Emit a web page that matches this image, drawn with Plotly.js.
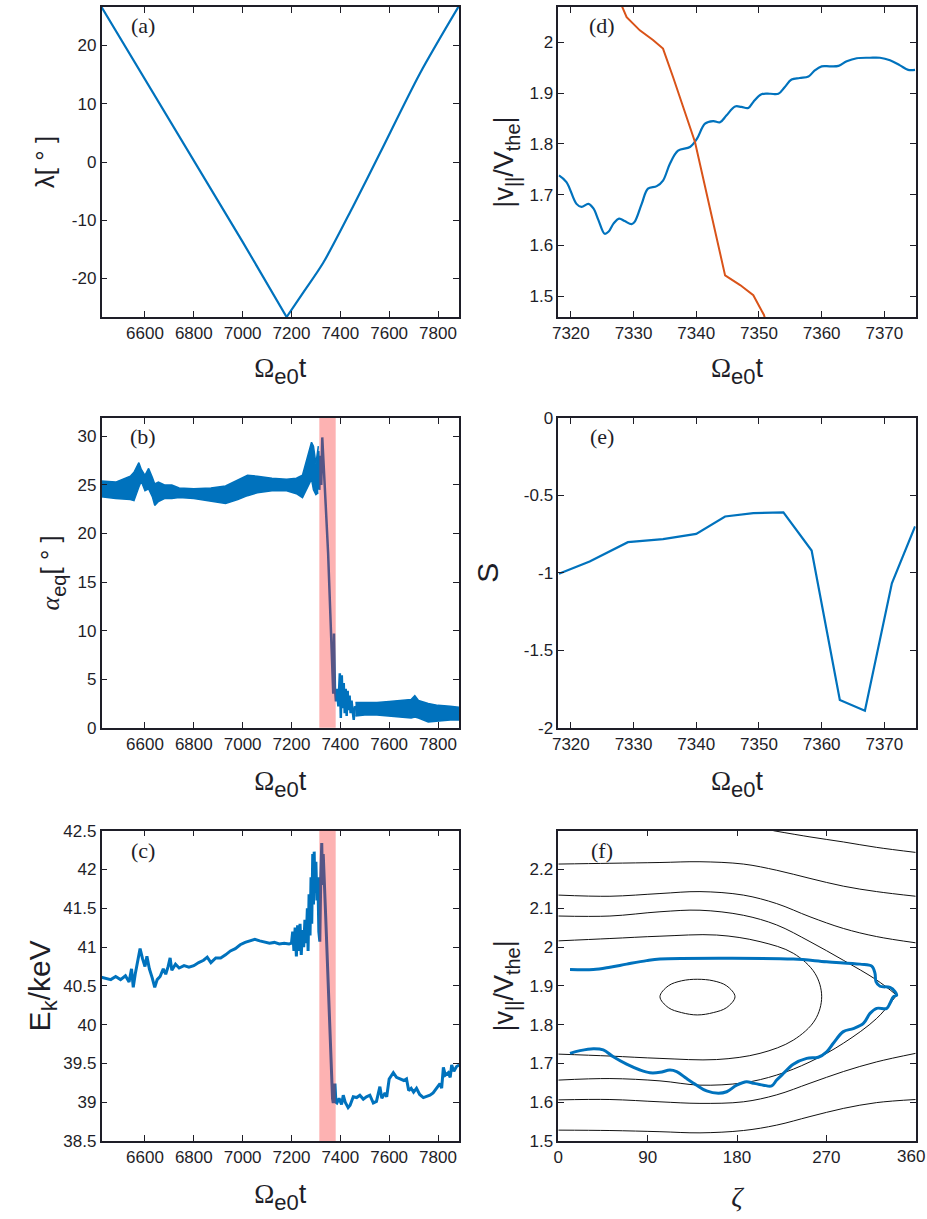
<!DOCTYPE html>
<html>
<head>
<meta charset="utf-8">
<script src="https://cdn.plot.ly/plotly-3.0.1.min.js"></script>
<style>html,body{margin:0;padding:0;background:#fff}</style>
</head>
<body>
<div id="chart" style="width:927px;height:1219px"></div>
<script>
// ---------- Data ----------
// (a) latitude vs time (index 4 is the turning point)
var a_t   = [6422, 6600, 6800, 7000, 7180, 7250, 7330, 7450, 7562, 7726, 7886];
var a_lat = [26.6, 14.2, 0.2, -13.7, -26.6, -22.3, -17.3, -7.8, 1.5, 15.2, 26.8];

// (b) equatorial pitch angle: noisy band (envelopes) + transition line + late band
var b1_t     = [6421, 6480, 6540, 6555, 6575, 6585, 6600, 6615, 6630, 6640, 6655, 6680, 6710, 6740, 6800, 6870, 6930, 6980, 7020, 7060, 7120, 7180, 7220, 7245, 7262, 7272, 7282, 7290, 7300, 7310];
var b1_upper = [25.4, 25.3, 25.9, 26.3, 27.3, 26.6, 26.0, 26.7, 25.8, 25.1, 25.3, 25.0, 25.0, 24.7, 24.6, 24.7, 24.9, 25.5, 26.0, 25.9, 25.7, 25.6, 25.7, 26.0, 27.5, 28.3, 29.4, 29.0, 27.2, 29.0];
var b1_lower = [23.8, 23.6, 23.5, 23.4, 24.8, 25.4, 24.4, 24.6, 23.8, 22.9, 23.3, 23.6, 23.6, 23.7, 23.6, 23.3, 23.1, 23.5, 23.9, 24.2, 24.4, 24.4, 24.1, 23.7, 24.5, 25.0, 25.6, 24.5, 24.0, 24.2];
var b2_t     = [7310, 7314, 7318, 7322, 7326, 7330, 7340, 7350, 7358, 7364, 7368, 7371, 7374, 7376, 7378, 7382, 7386, 7392, 7398, 7402, 7406, 7410, 7414, 7418, 7422, 7426, 7430, 7434, 7438, 7442, 7446, 7450, 7455, 7460, 7466];
var b2_alpha = [28.5, 24.5, 28.0, 25.0, 29.9, 27.5, 23.0, 18.0, 13.0, 9.7, 6.0, 3.5, 9.7, 6.0, 4.0, 2.7, 4.0, 2.2, 5.6, 1.0, 5.4, 2.0, 4.6, 1.5, 4.0, 1.2, 3.8, 1.8, 3.3, 1.5, 2.8, 1.8, 0.8, 2.2, 1.9];
var b3_t     = [7462, 7500, 7550, 7600, 7650, 7690, 7705, 7720, 7760, 7800, 7850, 7886];
var b3_upper = [2.6, 2.6, 2.6, 2.7, 2.8, 2.9, 3.3, 2.8, 2.5, 2.3, 2.2, 2.1];
var b3_lower = [1.2, 1.3, 1.3, 1.2, 1.1, 1.0, 1.1, 1.0, 0.6, 0.7, 0.8, 0.8];
var band_t = [7314, 7381];   // shaded interval (panels b, c)

// (c) kinetic energy
var c_t = [6421, 6440, 6460, 6480, 6500, 6520, 6535, 6545, 6552, 6560, 6570, 6580, 6590, 6600, 6608, 6618, 6630, 6640, 6650, 6662, 6675, 6685, 6695, 6703, 6710, 6725, 6740, 6760, 6780, 6800, 6820, 6840, 6855, 6870, 6890, 6910, 6930, 6950, 6970, 6990, 7010, 7030, 7050, 7070, 7090, 7110, 7130, 7150, 7170, 7190, 7200,
  7205, 7210, 7215, 7220, 7225, 7230, 7235, 7240, 7245, 7250, 7255, 7260, 7265, 7268, 7272, 7276, 7280, 7283, 7287, 7290, 7293, 7296, 7300, 7304, 7308, 7312, 7316, 7320, 7324, 7327, 7330, 7340, 7350, 7358, 7364, 7368, 7371, 7375, 7378, 7382, 7386,
  7395, 7405, 7412, 7420, 7432, 7440, 7453, 7467, 7480, 7494, 7507, 7521, 7535, 7548, 7562, 7570, 7583, 7590, 7600, 7617, 7630, 7644, 7660, 7671, 7680, 7690, 7700, 7712, 7725, 7740, 7755, 7767, 7780, 7794, 7808, 7815, 7822, 7830, 7842, 7850, 7856, 7865, 7876, 7887];
var c_E = [40.61, 40.60, 40.58, 40.62, 40.58, 40.63, 40.55, 40.72, 40.48, 40.65, 40.80, 40.98, 40.85, 40.75, 40.88, 40.72, 40.60, 40.48, 40.58, 40.62, 40.72, 40.65, 40.75, 40.86, 40.70, 40.78, 40.73, 40.76, 40.74, 40.76, 40.80, 40.83, 40.87, 40.80, 40.86, 40.86, 40.90, 40.95, 40.98, 41.03, 41.06, 41.08, 41.10, 41.08, 41.06, 41.05, 41.06, 41.04, 41.05, 41.04, 41.05,
  41.20, 40.95, 41.25, 40.88, 41.28, 40.95, 41.30, 40.90, 41.22, 41.00, 41.35, 41.05, 41.50, 40.95, 41.68, 41.15, 41.90, 41.30, 42.20, 41.55, 42.23, 41.70, 42.10, 41.60, 41.90, 41.20, 41.07, 41.90, 42.34, 41.80, 42.20, 41.40, 40.55, 39.75, 39.29, 39.05, 38.99, 39.20, 39.24, 39.00, 38.99,
  39.05, 38.97, 39.09, 39.00, 38.93, 38.96, 39.07, 39.06, 39.09, 39.04, 39.07, 39.09, 38.99, 39.01, 39.20, 39.05, 39.12, 39.07, 39.30, 39.38, 39.32, 39.30, 39.28, 39.30, 39.15, 39.18, 39.13, 39.18, 39.10, 39.06, 39.08, 39.09, 39.12, 39.18, 39.24, 39.18, 39.45, 39.35, 39.38, 39.32, 39.48, 39.40, 39.46, 39.48];

// (d) parallel velocity (blue) and resonance velocity (red)
var d_t = [7318.1, 7319.3, 7320.9, 7321.7, 7322.8, 7323.6, 7324.4, 7325.4, 7326.0, 7326.8, 7327.7, 7328.6, 7329.7, 7330.2, 7331.3, 7332.3, 7333.7, 7334.7, 7335.8, 7337.1, 7339.0, 7340.1, 7341.4, 7342.7, 7343.8, 7344.8, 7346.2, 7347.2, 7348.3, 7349.1, 7350.4, 7351.8, 7353.1, 7354.1, 7355.2, 7356.5, 7357.9, 7358.9, 7360.0, 7361.3, 7362.7, 7364.0, 7365.6, 7367.7, 7369.3, 7370.9, 7372.5, 7373.8, 7374.9];
var d_v = [1.738, 1.725, 1.682, 1.676, 1.682, 1.673, 1.650, 1.623, 1.627, 1.643, 1.653, 1.648, 1.642, 1.647, 1.682, 1.712, 1.717, 1.728, 1.761, 1.787, 1.794, 1.810, 1.840, 1.845, 1.843, 1.856, 1.874, 1.873, 1.871, 1.883, 1.898, 1.899, 1.899, 1.912, 1.927, 1.930, 1.933, 1.945, 1.953, 1.953, 1.954, 1.963, 1.969, 1.970, 1.970, 1.965, 1.955, 1.946, 1.946];
var dres_t = [7327.5, 7328.1, 7328.9, 7331.0, 7333.1, 7334.7, 7336.3, 7339.8, 7344.6, 7347.0, 7349.1, 7350.8, 7351.5];
var dres_v = [2.100, 2.073, 2.050, 2.024, 2.005, 1.988, 1.932, 1.804, 1.541, 1.522, 1.502, 1.463, 1.433];

// (e) inhomogeneity factor S
var e_t = [7318.1, 7323.0, 7329.1, 7334.7, 7340.0, 7344.6, 7349.1, 7353.9, 7358.4, 7362.9, 7366.9, 7371.2, 7374.9];
var e_S = [-1.006, -0.927, -0.802, -0.782, -0.748, -0.636, -0.614, -0.610, -0.856, -1.821, -1.890, -1.067, -0.700];

// (f) phase-space contours (segments separated by null) and trajectory
var f_cont_zeta = [216.6, 253.5, 287.1, 320.7, 360, null,
  0, 52, 102.4, 142.7, 186.4, 220, 253.5, 287.1, 320.7, 360, null,
  0, 52, 102.4, 142.7, 186.4, 220, 253.5, 287.1, 320.7, 360, null,
  0, 52, 102.4, 142.7, 186.4, 220, 253.5, 287.1, 320.7, 340.8, null,
  0, 52, 102.4, 142.7, 186.4, 220, 253.5, 287.1, 320.7, 340.8, null,
  0, 52, 102.4, 142.7, 186.4, 220, 253.5, 287.1, 320.7, 360, null,
  0, 52, 102.4, 142.7, 186.4, 220, 253.5, 287.1, 320.7, 360, null,
  0, 52, 102.4, 159.5, 203.2, 236.7, 258.6, 265.3, 258.6, 236.7, 203.2, 159.5, 102.4, 52, 0, null,
  102.4, 110.8, 124.2, 140, 156.1, 169.6, 178, 169.6, 156.1, 140, 124.2, 110.8, 102.4];
var f_cont_v = [2.300, 2.284, 2.271, 2.257, 2.244, null,
  2.214, 2.216, 2.218, 2.220, 2.214, 2.198, 2.177, 2.157, 2.143, 2.131, null,
  2.134, 2.131, 2.138, 2.143, 2.134, 2.112, 2.078, 2.048, 2.027, 2.011, null,
  2.080, 2.080, 2.091, 2.095, 2.082, 2.057, 2.014, 1.966, 1.915, 1.876, null,
  1.657, 1.661, 1.655, 1.644, 1.650, 1.670, 1.704, 1.752, 1.816, 1.876, null,
  1.606, 1.607, 1.601, 1.597, 1.601, 1.619, 1.649, 1.679, 1.704, 1.726, null,
  1.528, 1.527, 1.524, 1.521, 1.527, 1.541, 1.563, 1.584, 1.599, 1.607, null,
  1.724, 1.719, 1.713, 1.710, 1.726, 1.760, 1.812, 1.872, 1.932, 1.984, 2.014, 2.031, 2.028, 2.022, 2.016, null,
  1.872, 1.900, 1.913, 1.917, 1.913, 1.900, 1.872, 1.844, 1.831, 1.825, 1.831, 1.844, 1.872];
var f_traj_zeta = [11.8, 21.8, 35.3, 45.3, 55.4, 68.8, 82.3, 92.3, 102.4, 112.5, 119.2, 129.3, 139.4, 149.4, 161.2, 169.6, 179.7, 189.7, 196.4, 206.5, 214.9, 220, 226.7, 236.7, 250.2, 261.9, 270.3, 277, 287.1, 297.2, 307.3, 314, 320.7, 330.8, 334.1, 337.5, 340.8,
  339.2, 334.1, 324, 320, 319, 315.7,
  303.9, 270.3, 236.7, 169.6, 102.4, 89, 68.8, 52, 35.3, 11.8];
var f_traj_v = [1.726, 1.733, 1.738, 1.735, 1.717, 1.698, 1.683, 1.676, 1.677, 1.683, 1.679, 1.661, 1.644, 1.629, 1.623, 1.627, 1.644, 1.653, 1.649, 1.644, 1.642, 1.657, 1.674, 1.698, 1.713, 1.716, 1.730, 1.752, 1.782, 1.790, 1.803, 1.829, 1.842, 1.842, 1.855, 1.872, 1.876,
  1.885, 1.896, 1.899, 1.911, 1.932, 1.951,
  1.956, 1.962, 1.969, 1.971, 1.969, 1.965, 1.956, 1.948, 1.942, 1.942];

// tick labels
var t_ticks = [6600, 6800, 7000, 7200, 7400, 7600, 7800];
var a_yticks = [-20, -10, 0, 10, 20];
var b_yticks = [0, 5, 10, 15, 20, 25, 30];
var c_yticks = [38.5, 39, 39.5, 40, 40.5, 41, 41.5, 42, 42.5];
var d_xticks = [7320, 7330, 7340, 7350, 7360, 7370];
var d_yticks = [1.5, 1.6, 1.7, 1.8, 1.9, 2];
var e_yticks = [-2, -1.5, -1, -0.5, 0];
var f_xticks = [0, 90, 180, 270, 360];
var f_xlabels = ['0', '90', '180', '270', ''];   // the last label is placed as an annotation so it stays inside the page
var f_yticks = [1.5, 1.6, 1.7, 1.8, 1.9, 2, 2.1, 2.2];

// ---------- Styling ----------
var BLUE = '#0072BD', RED = '#D95319', INK = '#1e1e28';
var W = 927, H = 1219;
function px(x){ return x / W; }
function py(y){ return 1 - y / H; }

var colL = [px(101.5), px(459)], colR = [px(558.3), px(915.7)];
var row1 = [py(317), py(7)], row2 = [py(727.7), py(418)], row3 = [py(1141), py(830.7)];

var SANS = 'Liberation Sans, Arial, sans-serif';
var SERIF = 'Liberation Serif, Times New Roman, serif';
function sub(s, size){ return '<span style="font-size:' + size + 'px;baseline-shift:-7px">' + s + '</span>'; }
var OMEGA = '<span style="font-family:Liberation Serif">\u03A9</span>' + sub('e0', 22) + 't';
var VPAR = '|v' + sub('||', 20) + '/V' + sub('the', 20) + '|';

function axis(domain, anchor, range, ticks, title, standoff, tsize, labels) {
  return {
    domain: domain, anchor: anchor, range: range,
    tickmode: 'array', tickvals: ticks, ticktext: labels || ticks.map(String),
    ticks: 'inside', ticklen: 6, tickwidth: 1.2, tickcolor: INK,
    showline: true, linecolor: INK, linewidth: 1.5, mirror: 'allticks',
    showgrid: false, zeroline: false,
    tickfont: {family: SANS, size: 17, color: INK},
    title: {text: title, font: {family: SANS, size: tsize || 27, color: INK}, standoff: standoff}
  };
}

var TURN = 4;
var traces = [
  {x: a_t.slice(0, TURN + 1), y: a_lat.slice(0, TURN + 1), xaxis: 'x', yaxis: 'y', mode: 'lines', line: {color: BLUE, width: 2.2}},
  {x: a_t.slice(TURN), y: a_lat.slice(TURN), xaxis: 'x', yaxis: 'y', mode: 'lines', line: {color: BLUE, width: 2.2, shape: 'spline', smoothing: 0.8}},

  {x: b1_t, y: b1_lower, xaxis: 'x2', yaxis: 'y2', mode: 'lines', line: {color: BLUE, width: 1.5}},
  {x: b1_t, y: b1_upper, xaxis: 'x2', yaxis: 'y2', mode: 'lines', fill: 'tonexty', fillcolor: BLUE, line: {color: BLUE, width: 1.5}},
  {x: b2_t, y: b2_alpha, xaxis: 'x2', yaxis: 'y2', mode: 'lines', line: {color: BLUE, width: 2.5}},
  {x: b3_t, y: b3_lower, xaxis: 'x2', yaxis: 'y2', mode: 'lines', line: {color: BLUE, width: 1.5}},
  {x: b3_t, y: b3_upper, xaxis: 'x2', yaxis: 'y2', mode: 'lines', fill: 'tonexty', fillcolor: BLUE, line: {color: BLUE, width: 1.5}},

  {x: c_t, y: c_E, xaxis: 'x3', yaxis: 'y3', mode: 'lines', line: {color: BLUE, width: 3}},

  {x: d_t, y: d_v, xaxis: 'x4', yaxis: 'y4', mode: 'lines', line: {color: BLUE, width: 2.2, shape: 'spline'}},
  {x: dres_t, y: dres_v, xaxis: 'x4', yaxis: 'y4', mode: 'lines', line: {color: RED, width: 2}},

  {x: e_t, y: e_S, xaxis: 'x5', yaxis: 'y5', mode: 'lines', line: {color: BLUE, width: 2.2}},

  {x: f_cont_zeta, y: f_cont_v, xaxis: 'x6', yaxis: 'y6', mode: 'lines', connectgaps: false, line: {color: '#111', width: 1, shape: 'spline'}},
  {x: f_traj_zeta, y: f_traj_v, xaxis: 'x6', yaxis: 'y6', mode: 'lines', line: {color: BLUE, width: 3, shape: 'spline'}}
];

var panelLabels = [
  ['(a)', 143, 25], ['(b)', 143, 437], ['(c)', 143, 850],
  ['(d)', 602, 25], ['(e)', 602, 437], ['(f)', 602, 850]
].map(function(p){
  return {text: p[0], xref: 'paper', yref: 'paper', x: px(p[1]), y: py(p[2]), xanchor: 'center', yanchor: 'middle', showarrow: false, font: {family: SERIF, size: 22, color: INK}};
});
panelLabels.push({text: String(f_xticks[4]), xref: 'paper', yref: 'paper', x: 1, y: py(1141), xanchor: 'right', yanchor: 'top', yshift: -4, showarrow: false,
  font: {family: SANS, size: 17, color: INK}});

var layout = {
  width: W, height: H, margin: {l: 0, r: 0, t: 0, b: 0},
  paper_bgcolor: '#fff', plot_bgcolor: '#fff', showlegend: false,
  xaxis:  axis(colL, 'y',  [6422, 7886], t_ticks, OMEGA, 16),
  yaxis:  axis(row1, 'x',  [-26.6, 26.6], a_yticks, '\u03BB[ \u00B0 ]', 10, 26),
  xaxis2: axis(colL, 'y2', [6422, 7886], t_ticks, OMEGA, 18),
  yaxis2: axis(row2, 'x2', [0, 31.9], b_yticks, '<span style="font-family:Liberation Serif;font-style:italic">\u03B1</span>' + sub('eq', 20) + '[ \u00B0 ]', 10, 26),
  xaxis3: axis(colL, 'y3', [6422, 7886], t_ticks, OMEGA, 18),
  yaxis3: axis(row3, 'x3', [38.5, 42.5], c_yticks, 'E' + sub('k', 22) + '/keV', 4, 30),
  xaxis4: axis(colR, 'y4', [7318, 7375], d_xticks, OMEGA, 16),
  yaxis4: axis(row1, 'x4', [1.459, 2.07], d_yticks, VPAR, 8, 27),
  xaxis5: axis(colR, 'y5', [7318, 7375], d_xticks, OMEGA, 18),
  yaxis5: axis(row2, 'x5', [-2, 0], e_yticks, 'S', 16, 30),
  xaxis6: axis(colR, 'y6', [0, 360], f_xticks, '<span style="font-family:Liberation Serif;font-style:italic">\u03B6</span>', 20, 28, f_xlabels),
  yaxis6: axis(row3, 'x6', [1.5, 2.3], f_yticks, VPAR, 8, 27),
  shapes: [
    {type: 'rect', xref: 'x2', yref: 'y2 domain', x0: band_t[0], x1: band_t[1], y0: 0, y1: 1, fillcolor: 'rgba(250,30,30,0.34)', line: {width: 0}, layer: 'above'},
    {type: 'rect', xref: 'x3', yref: 'y3 domain', x0: band_t[0], x1: band_t[1], y0: 0, y1: 1, fillcolor: 'rgba(250,30,30,0.34)', line: {width: 0}, layer: 'above'}
  ],
  annotations: panelLabels
};

Plotly.newPlot('chart', traces, layout, {displayModeBar: false, responsive: false});
</script>
</body>
</html>
